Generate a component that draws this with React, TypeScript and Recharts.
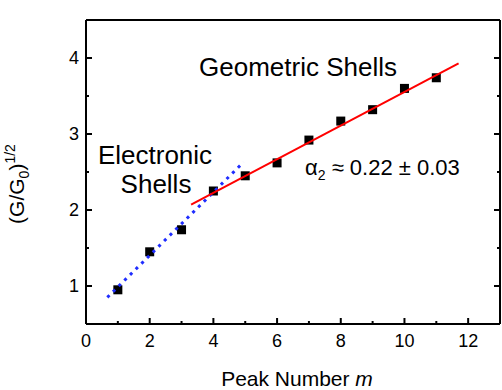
import { Scatter, ScatterChart, XAxis, YAxis } from "recharts";

const peakNumbers = [1, 2, 3, 4, 5, 6, 7, 8, 9, 10, 11];
const conductanceRoot = [0.95, 1.45, 1.74, 2.25, 2.45, 2.62, 2.92, 3.17, 3.32, 3.6, 3.74];

// linear fits
const electronicFitX = [0.67, 4.95];
const electronicFitY = [0.85, 2.63];
const geometricFitX = [3.3, 11.7];
const geometricFitY = [2.07, 3.93];

const xTicks = [0, 1, 2, 3, 4, 5, 6, 7, 8, 9, 10, 11, 12];
const yTicks = [1, 1.5, 2, 2.5, 3, 3.5, 4];

const FONT = "'Liberation Sans', Arial, sans-serif";

const points = peakNumbers.map((m, i) => ({ x: m, y: conductanceRoot[i] }));
const electronicFit = electronicFitX.map((x, i) => ({ x, y: electronicFitY[i] }));
const geometricFit = geometricFitX.map((x, i) => ({ x, y: geometricFitY[i] }));

const isMajorX = (v: number) => v % 2 === 0;
const isMajorY = (v: number) => Number.isInteger(v);

function BottomTick({ x, y, payload }: any) {
  const major = isMajorX(payload.value);
  return (
    <g>
      <line x1={x} x2={x} y1={y} y2={y - (major ? 6 : 3)} stroke="#000" strokeWidth={2} />
      {major && (
        <text x={x} y={y + 23} textAnchor="middle" fontSize={18} fontFamily={FONT} fill="#000">
          {payload.value}
        </text>
      )}
    </g>
  );
}

function TopTick({ x, y, payload }: any) {
  const major = isMajorX(payload.value);
  return <line x1={x} x2={x} y1={y} y2={y + (major ? 6 : 3)} stroke="#000" strokeWidth={2} />;
}

function LeftTick({ x, y, payload }: any) {
  const major = isMajorY(payload.value);
  return (
    <g>
      <line x1={x} x2={x + (major ? 6 : 3)} y1={y} y2={y} stroke="#000" strokeWidth={2} />
      {major && (
        <text x={x - 7} y={y} dy="0.36em" textAnchor="end" fontSize={18} fontFamily={FONT} fill="#000">
          {payload.value}
        </text>
      )}
    </g>
  );
}

function RightTick({ x, y, payload }: any) {
  const major = isMajorY(payload.value);
  return <line x1={x} x2={x - (major ? 6 : 3)} y1={y} y2={y} stroke="#000" strokeWidth={2} />;
}

function SquareDot({ cx, cy }: any) {
  return <rect x={cx - 4.5} y={cy - 4.5} width={9} height={9} fill="#000" />;
}

const NoDot = () => <g />;

const axisLine = { stroke: "#000", strokeWidth: 2 };

export default function App() {
  return (
    <div style={{ position: "absolute", left: 0, top: 0, background: "#fff" }}>
      <ScatterChart width={502} height={390} margin={{ top: 0, right: 0, bottom: 0, left: 0 }}>
        <XAxis
          xAxisId="bottom"
          dataKey="x"
          type="number"
          domain={[0, 13]}
          allowDataOverflow
          ticks={xTicks}
          interval={0}
          height={66}
          tickSize={0}
          tickMargin={0}
          tickLine={false}
          axisLine={axisLine}
          tick={<BottomTick />}
        />
        <XAxis
          xAxisId="top"
          orientation="top"
          type="number"
          domain={[0, 13]}
          allowDataOverflow
          ticks={xTicks}
          interval={0}
          height={20}
          tickSize={0}
          tickMargin={0}
          tickLine={false}
          axisLine={axisLine}
          tick={<TopTick />}
        />
        <YAxis
          yAxisId="left"
          dataKey="y"
          type="number"
          domain={[0.5, 4.5]}
          allowDataOverflow
          ticks={yTicks}
          interval={0}
          width={86}
          tickSize={0}
          tickMargin={0}
          tickLine={false}
          axisLine={axisLine}
          tick={<LeftTick />}
        />
        <YAxis
          yAxisId="right"
          orientation="right"
          type="number"
          domain={[0.5, 4.5]}
          allowDataOverflow
          ticks={yTicks}
          interval={0}
          width={2}
          tickSize={0}
          tickMargin={0}
          tickLine={false}
          axisLine={axisLine}
          tick={<RightTick />}
        />
        <Scatter
          xAxisId="bottom"
          yAxisId="left"
          data={points}
          shape={<SquareDot />}
          isAnimationActive={false}
        />
        <Scatter
          xAxisId="bottom"
          yAxisId="left"
          data={electronicFit}
          line={{ stroke: "#1f2dff", strokeWidth: 3, strokeDasharray: "3 5" }}
          shape={NoDot}
          isAnimationActive={false}
        />
        <Scatter
          xAxisId="bottom"
          yAxisId="left"
          data={geometricFit}
          line={{ stroke: "#ff0000", strokeWidth: 2 }}
          shape={NoDot}
          isAnimationActive={false}
        />
        <text x={298} y={76} textAnchor="middle" fontSize={26} fontFamily={FONT} fill="#000">
          Geometric Shells
        </text>
        <text x={155} y={164} textAnchor="middle" fontSize={26} fontFamily={FONT} fill="#000">
          Electronic
        </text>
        <text x={156} y={193} textAnchor="middle" fontSize={26} fontFamily={FONT} fill="#000">
          Shells
        </text>
        <text x={305} y={175} fontSize={22} fontFamily={FONT} fill="#000">
          α<tspan fontSize={14} dy={5}>2</tspan>
          <tspan dy={-5}> ≈ 0.22 ± 0.03</tspan>
        </text>
        <text x={297} y={386} textAnchor="middle" fontSize={21} fontFamily={FONT} fill="#000">
          Peak Number <tspan fontStyle="italic">m</tspan>
        </text>
        <text
          x={24}
          y={184}
          transform="rotate(-90 24 184)"
          textAnchor="middle"
          fontSize={21}
          fontFamily={FONT}
          fill="#000"
        >
          (G/G<tspan fontSize={14} dy={5}>0</tspan>
          <tspan dy={-5}>)</tspan>
          <tspan fontSize={14} dy={-9}>1/2</tspan>
        </text>
      </ScatterChart>
    </div>
  );
}
